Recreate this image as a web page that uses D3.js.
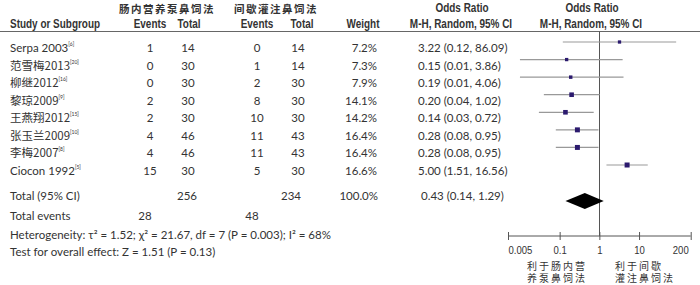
<!DOCTYPE html>
<html>
<head>
<meta charset="utf-8">
<script src="https://cdn.jsdelivr.net/npm/d3@7"></script>
<style>
  body { margin: 0; background: #fff; }
  svg text { fill: #333; }
  .hdr { font-family: "Liberation Sans", Arial, sans-serif; font-weight: bold; font-size: 12px; }
  .cn { font-family: "Noto Sans CJK SC", sans-serif; }
  .body { font-family: Lato, "Open Sans", "Noto Sans CJK SC", sans-serif; font-size: 11.5px; }
  .axis text { font-family: "Liberation Sans", Arial, sans-serif; font-size: 11.5px; fill: #333; }
</style>
</head>
<body>
<div id="chart"></div>
<script>
// study rows
const studies = ["Serpa 2003", "范雪梅2013", "柳继2012", "黎琼2009", "王燕翔2012", "张玉兰2009", "李梅2007", "Ciocon 1992"];
const refs = ["[6]", "[20]", "[16]", "[9]", "[15]", "[10]", "[8]", "[5]"];
const events1 = [1, 0, 0, 2, 2, 4, 4, 15];
const totals1 = [14, 30, 30, 30, 30, 46, 46, 30];
const events2 = [0, 1, 2, 8, 10, 11, 11, 5];
const totals2 = [14, 14, 30, 30, 30, 43, 43, 30];
const weights = [7.2, 7.3, 7.9, 14.1, 14.2, 16.4, 16.4, 16.6];
const oddsRatio = [3.22, 0.15, 0.19, 0.20, 0.14, 0.28, 0.28, 5.00];
const ciLow = [0.12, 0.01, 0.01, 0.04, 0.03, 0.08, 0.08, 1.51];
const ciHigh = [86.09, 3.86, 4.06, 1.02, 0.72, 0.95, 0.95, 16.56];

// pooled
const pooled = { or: 0.43, lo: 0.14, hi: 1.29, total1: 256, total2: 234, ev1: 28, ev2: 48, weight: 100.0 };
const axisTicks = [0.005, 0.1, 1, 10, 200];

const width = 700, height = 285;
const narrow = 0.83; // squeeze for the condensed header font

const svg = d3.select("#chart").append("svg")
    .attr("width", width)
    .attr("height", height);

const data = studies.map((s, i) => ({
    name: s, ref: refs[i], e1: events1[i], t1: totals1[i], e2: events2[i], t2: totals2[i],
    w: weights[i], or: oddsRatio[i], lo: ciLow[i], hi: ciHigh[i]
}));

// log scale for the plot
const x = d3.scaleLog().domain([0.005, 200]).range([508, 690.7]);
// row baselines
const y = d3.scaleLinear().domain([0, 7]).range([52, 175]);
const size = d3.scaleSqrt().domain([0, 16.6]).range([0, 5]);

const axisY = 236;

// header
svg.append("text").attr("class", "hdr cn").attr("x", 167).attr("y", 13)
    .attr("text-anchor", "middle").style("letter-spacing", "1.5px").style("font-size", "10.5px")
    .text("肠内营养泵鼻饲法");
svg.append("text").attr("class", "hdr cn").attr("x", 276).attr("y", 13)
    .attr("text-anchor", "middle").style("letter-spacing", "1.5px").style("font-size", "10.5px")
    .text("间歇灌注鼻饲法");

const headers = [
    { t: "Odds Ratio", x: 462, y: 12, a: "middle" },
    { t: "Odds Ratio", x: 592, y: 12, a: "middle" },
    { t: "Study or Subgroup", x: 10, y: 28, a: "start" },
    { t: "Events", x: 150, y: 28, a: "middle" },
    { t: "Total", x: 189, y: 28, a: "middle" },
    { t: "Events", x: 257, y: 28, a: "middle" },
    { t: "Total", x: 302, y: 28, a: "middle" },
    { t: "Weight", x: 363, y: 28, a: "middle" },
    { t: "M-H, Random, 95% CI", x: 461, y: 28, a: "middle" },
    { t: "M-H, Random, 95% CI", x: 591, y: 28, a: "middle" }
];
svg.selectAll(".hdr2").data(headers).join("g")
    .attr("class", "hdr2")
    .attr("transform", d => "translate(" + d.x + "," + d.y + ")")
    .append("text")
    .attr("class", "hdr")
    .attr("transform", "scale(" + narrow + ",1)")
    .attr("text-anchor", d => d.a)
    .text(d => d.t);

// header rule
svg.append("line").attr("x1", 0).attr("x2", 700).attr("y1", 31.5).attr("y2", 31.5)
    .attr("stroke", "#666").attr("stroke-width", 1);

// line of no effect
svg.append("line").attr("x1", Math.round(x(1)) + 0.5).attr("x2", Math.round(x(1)) + 0.5)
    .attr("y1", 31.5).attr("y2", axisY)
    .attr("stroke", "#555").attr("stroke-width", 1);

// study rows
const rows = svg.selectAll(".row").data(data).join("g")
    .attr("class", "row body")
    .attr("transform", (d, i) => "translate(0," + y(i) + ")");

const nameText = rows.append("text").attr("x", 10).attr("y", 0);
nameText.append("tspan").attr("class", d => /[\u4e00-\u9fff]/.test(d.name) ? "cn" : null).text(d => d.name);
nameText.append("tspan").attr("dy", -6).style("font-size", "5px").text(d => d.ref);

rows.append("text").attr("x", 150).attr("text-anchor", "middle").text(d => d.e1);
rows.append("text").attr("x", 188).attr("text-anchor", "middle").text(d => d.t1);
rows.append("text").attr("x", 257).attr("text-anchor", "middle").text(d => d.e2);
rows.append("text").attr("x", 298).attr("text-anchor", "middle").text(d => d.t2);
rows.append("text").attr("x", 377).attr("text-anchor", "end").text(d => d.w.toFixed(1) + "%");
rows.append("text").attr("x", 418)
    .text(d => d.or.toFixed(2) + " (" + d.lo.toFixed(2) + ", " + d.hi.toFixed(2) + ")");

// CI lines and squares
rows.append("line")
    .attr("x1", d => x(d.lo)).attr("x2", d => x(d.hi))
    .attr("y1", -10).attr("y2", -10)
    .attr("stroke", "#999").attr("stroke-width", 1.2);
rows.append("rect")
    .attr("x", d => x(d.or) - size(d.w) / 2)
    .attr("y", d => -10 - size(d.w) / 2)
    .attr("width", d => size(d.w))
    .attr("height", d => size(d.w))
    .attr("fill", "#2b1a6e");

// totals
const tot = svg.append("g").attr("class", "body");
tot.append("text").attr("x", 10).attr("y", 200).text("Total (95% CI)");
tot.append("text").attr("x", 187).attr("y", 200).attr("text-anchor", "middle").text(pooled.total1);
tot.append("text").attr("x", 291).attr("y", 200).attr("text-anchor", "middle").text(pooled.total2);
tot.append("text").attr("x", 378).attr("y", 200).attr("text-anchor", "end").text(pooled.weight.toFixed(1) + "%");
tot.append("text").attr("x", 421).attr("y", 200)
    .text(pooled.or.toFixed(2) + " (" + pooled.lo.toFixed(2) + ", " + pooled.hi.toFixed(2) + ")");

tot.append("text").attr("x", 10).attr("y", 220).text("Total events");
tot.append("text").attr("x", 145).attr("y", 220).attr("text-anchor", "middle").text(pooled.ev1);
tot.append("text").attr("x", 252).attr("y", 220).attr("text-anchor", "middle").text(pooled.ev2);
tot.append("text").attr("x", 10).attr("y", 239).text("Heterogeneity: τ² = 1.52; χ² = 21.67, df = 7 (P = 0.003); I² = 68%");
tot.append("text").attr("x", 10).attr("y", 256).text("Test for overall effect: Z = 1.51 (P = 0.13)");

// diamond
const dy = 201;
svg.append("path")
    .attr("d", "M" + x(pooled.lo) + "," + dy + "L" + x(pooled.or) + "," + (dy - 8) +
        "L" + x(pooled.hi) + "," + dy + "L" + x(pooled.or) + "," + (dy + 8) + "Z")
    .attr("fill", "#000");

// axis
const axis = d3.axisBottom(x).tickValues(axisTicks).tickSize(4).tickPadding(6)
    .tickFormat(d => String(d));
const gAxis = svg.append("g").attr("class", "axis")
    .attr("transform", "translate(0," + axisY + ")")
    .call(axis);
gAxis.select(".domain").attr("d", "M" + x(0.005) + ",0H" + x(200)).attr("stroke", "#555");
gAxis.selectAll(".tick line").attr("y1", -4).attr("y2", 4).attr("stroke", "#555");
gAxis.selectAll(".tick text")
    .attr("transform", "scale(" + narrow + ",1)")
    .attr("text-anchor", (d, i) => i === 0 ? "start" : (i === axisTicks.length - 1 ? "end" : "middle"))
    .attr("x", (d, i) => i === axisTicks.length - 1 ? -3 : 0);

// favours labels
const fav = [
    { t: "利于肠内营", x: 527, y: 270 },
    { t: "养泵鼻饲法", x: 527, y: 282 },
    { t: "利于间歇", x: 615, y: 270 },
    { t: "灌注鼻饲法", x: 615, y: 282 }
];
svg.selectAll(".fav").data(fav).join("text")
    .attr("class", "fav cn")
    .attr("x", d => d.x).attr("y", d => d.y)
    .style("font-size", "10px").style("letter-spacing", "2px")
    .text(d => d.t);
</script>
</body>
</html>
